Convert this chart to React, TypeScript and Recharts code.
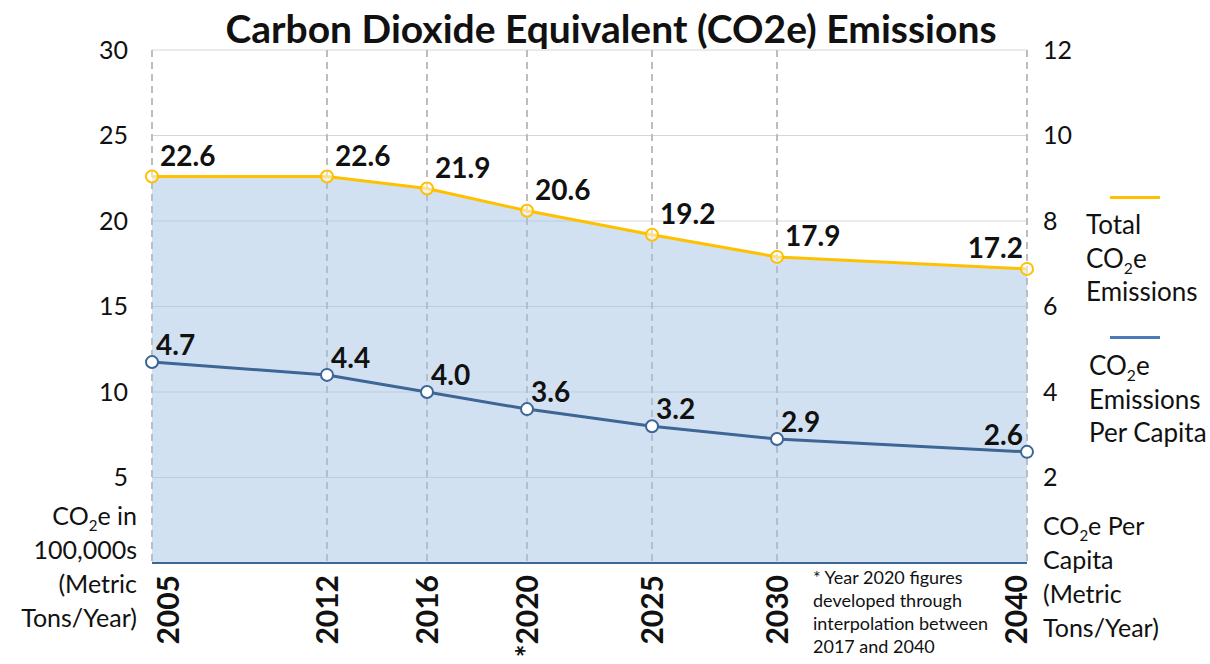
import {
  ComposedChart,
  Area,
  Line,
  XAxis,
  YAxis,
  CartesianGrid,
  LabelList,
} from 'recharts'

const years = [2005, 2012, 2016, 2020, 2025, 2030, 2040]
const yearLabels = ['2005', '2012', '2016', '*2020', '2025', '2030', '2040']
const totalEmissions = [22.6, 22.6, 21.9, 20.6, 19.2, 17.9, 17.2]
const perCapita = [4.7, 4.4, 4.0, 3.6, 3.2, 2.9, 2.6]
const leftTicks = [5, 10, 15, 20, 25, 30]
const rightTicks = [2, 4, 6, 8, 10, 12]

const data = years.map((year, i) => ({
  year,
  total: totalEmissions[i],
  perCapita: perCapita[i],
}))

const YELLOW = '#ffc000'
const BLUE = '#3d6595'
const FONT = 'Lato, "Noto Sans", sans-serif'

const Sub = () => (
  <sub style={{ fontSize: '0.6em', verticalAlign: 'sub', lineHeight: 0 }}>2</sub>
)

// rotated year labels; the first and last are pulled inward like in the original
const YearTick = (props: any) => {
  const { x, y, index } = props
  const last = years.length - 1
  const cx = index === 0 ? x + 16 : index === last ? x - 11 : x
  const cy = y + 10
  return (
    <text
      x={cx}
      y={cy}
      transform={`rotate(-90, ${cx}, ${cy})`}
      textAnchor="end"
      dy="0.36em"
      fontSize={30}
      fontWeight={700}
      fill="#111"
    >
      {yearLabels[index]}
    </text>
  )
}

const makeLabel = (dx: number, dy: number) => (props: any) => {
  const { x, y, value, index } = props
  const last = index === years.length - 1
  return (
    <text
      x={last ? x - 4 : x + dx}
      y={y - dy}
      textAnchor={last ? 'end' : 'start'}
      fontSize={28}
      fontWeight={700}
      fill="#111"
    >
      {Number(value).toFixed(1)}
    </text>
  )
}

export default function App() {
  return (
    <div
      style={{
        position: 'absolute',
        left: 0,
        top: 0,
        width: 1210,
        height: 664,
        background: '#fff',
        fontFamily: FONT,
        color: '#111',
      }}
    >
      <ComposedChart
        width={1210}
        height={664}
        data={data}
        margin={{ top: 50, right: 0, bottom: 0, left: 0 }}
      >
        <CartesianGrid vertical={false} stroke="#d6d6d6" yAxisId="left" />
        <CartesianGrid
          horizontal={false}
          stroke="#bdbdbd"
          strokeWidth={2}
          strokeDasharray="7 5"
          yAxisId="left"
        />
        <XAxis
          dataKey="year"
          type="number"
          domain={[2005, 2040]}
          ticks={years}
          height={101}
          tickSize={0}
          tickLine={false}
          axisLine={{ stroke: BLUE, strokeWidth: 2 }}
          tick={<YearTick />}
          interval={0}
        />
        <YAxis
          yAxisId="left"
          domain={[0, 30]}
          ticks={leftTicks}
          width={152}
          axisLine={false}
          tickLine={false}
          tickSize={0}
          tickMargin={24}
          tick={{ fontSize: 25, fill: '#111' }}
        />
        <YAxis
          yAxisId="right"
          orientation="right"
          domain={[0, 12]}
          ticks={rightTicks}
          width={183}
          axisLine={false}
          tickLine={false}
          tickSize={0}
          tickMargin={16}
          tick={{ fontSize: 25, fill: '#111', textAnchor: 'start' }}
        />
        <Area
          yAxisId="left"
          dataKey="total"
          type="linear"
          fill="#a6c3e6"
          fillOpacity={0.5}
          stroke={YELLOW}
          strokeWidth={3}
          dot={{ r: 6, fill: '#fff', stroke: YELLOW, strokeWidth: 2 }}
          activeDot={false}
          isAnimationActive={false}
        >
          <LabelList dataKey="total" content={makeLabel(8, 11)} />
        </Area>
        <Line
          yAxisId="right"
          dataKey="perCapita"
          type="linear"
          stroke={BLUE}
          strokeWidth={3}
          dot={{ r: 6, fill: '#fff', stroke: BLUE, strokeWidth: 2 }}
          activeDot={false}
          isAnimationActive={false}
        >
          <LabelList dataKey="perCapita" content={makeLabel(4, 7)} />
        </Line>
      </ComposedChart>

      <div
        style={{
          position: 'absolute',
          left: 0,
          width: 1222,
          top: 6,
          textAlign: 'center',
          fontSize: 39,
          fontWeight: 700,
          lineHeight: '44px',
        }}
      >
        Carbon Dioxide Equivalent (CO2e) Emissions
      </div>

      <div
        style={{
          position: 'absolute',
          left: 0,
          width: 137,
          top: 498,
          textAlign: 'right',
          fontSize: 25,
          lineHeight: '34px',
        }}
      >
        CO<Sub />e in
        <br />
        100,000s
        <br />
        (Metric
        <br />
        Tons/Year)
      </div>

      <div
        style={{
          position: 'absolute',
          left: 1043,
          top: 508,
          fontSize: 25,
          lineHeight: '34px',
        }}
      >
        CO<Sub />e Per
        <br />
        Capita
        <br />
        (Metric
        <br />
        Tons/Year)
      </div>

      <div
        style={{
          position: 'absolute',
          left: 1110,
          top: 196,
          width: 50,
          height: 3,
          background: YELLOW,
        }}
      />
      <div
        style={{
          position: 'absolute',
          left: 1086,
          top: 208,
          fontSize: 26,
          lineHeight: '33.5px',
        }}
      >
        Total
        <br />
        CO<Sub />e
        <br />
        Emissions
      </div>

      <div
        style={{
          position: 'absolute',
          left: 1110,
          top: 336,
          width: 50,
          height: 3,
          background: '#4a7ab8',
        }}
      />
      <div
        style={{
          position: 'absolute',
          left: 1089,
          top: 349,
          fontSize: 26,
          lineHeight: '33.5px',
        }}
      >
        CO<Sub />e
        <br />
        Emissions
        <br />
        Per Capita
      </div>

      <div
        style={{
          position: 'absolute',
          left: 813,
          top: 566,
          fontSize: 18,
          lineHeight: '23px',
        }}
      >
        * Year 2020 figures
        <br />
        developed through
        <br />
        interpolation between
        <br />
        2017 and 2040
      </div>
    </div>
  )
}
